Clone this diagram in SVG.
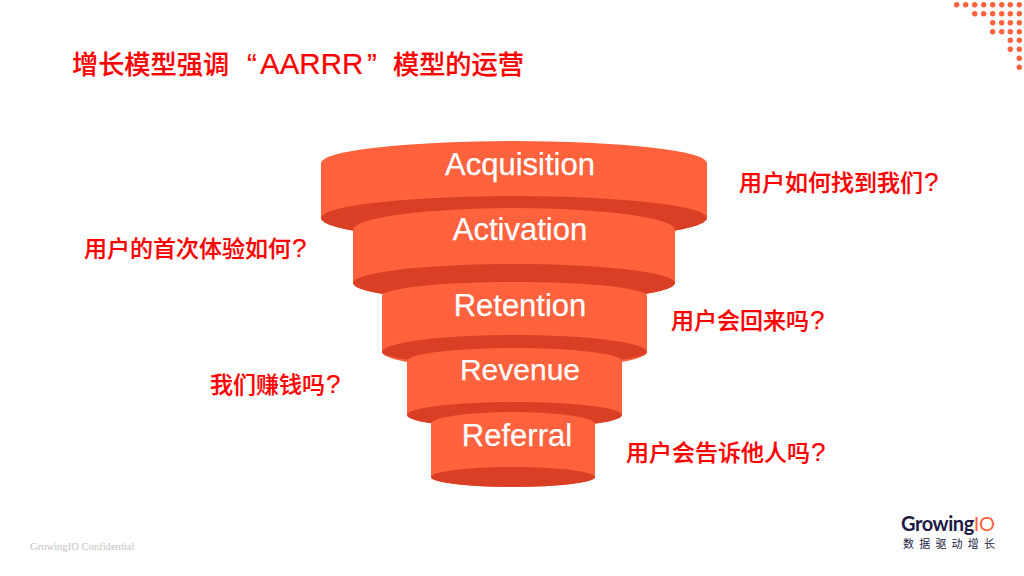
<svg xmlns="http://www.w3.org/2000/svg" width="1024" height="576" viewBox="0 0 1024 576">
<style>
.side{fill:#ff623c}
.in{fill:#d93f24}
.t{font-family:"Liberation Sans",Arial,sans-serif;font-size:31px;fill:#fff;stroke:#fff;stroke-width:.25px;text-anchor:middle}
.q{font-family:"Noto Sans CJK SC","Noto Sans",sans-serif;font-size:23px;fill:#f00;stroke:#f00;stroke-width:.2px;font-weight:500}
.m{font-family:"Liberation Sans",sans-serif;font-size:26px}
.d{fill:#ff623c}
.l{font-family:"Liberation Sans",sans-serif;font-size:29.500px;font-weight:400}
</style>
<rect width="1024" height="576" fill="#fff"/>
<text id="title" class="q" x="72" y="74" style="font-size:26.200px">增长模型强调<tspan class="l" x="247" y="74">“</tspan><tspan class="l" x="260" y="74">AARRR</tspan><tspan class="l" x="367" y="74">”</tspan><tspan x="393" y="74">模型的运营</tspan></text>
<g id="dots" class="d">
<circle cx="956.7" cy="4.7" r="2.7"/><circle cx="965.7" cy="4.7" r="2.7"/><circle cx="974.7" cy="4.7" r="2.7"/><circle cx="983.7" cy="4.7" r="2.7"/><circle cx="992.7" cy="4.7" r="2.7"/><circle cx="1001.7" cy="4.7" r="2.7"/><circle cx="1010.3" cy="4.7" r="2.7"/><circle cx="1019.3" cy="4.7" r="2.7"/>
<circle cx="974.7" cy="13.7" r="2.7"/><circle cx="983.7" cy="13.7" r="2.7"/><circle cx="992.7" cy="13.7" r="2.7"/><circle cx="1001.7" cy="13.7" r="2.7"/><circle cx="1010.3" cy="13.7" r="2.7"/><circle cx="1019.3" cy="13.7" r="2.7"/>
<circle cx="992.7" cy="22.7" r="2.7"/><circle cx="1001.7" cy="22.7" r="2.7"/><circle cx="1010.3" cy="22.7" r="2.7"/><circle cx="1019.3" cy="22.7" r="2.7"/>
<circle cx="992.7" cy="31.7" r="2.7"/><circle cx="1001.7" cy="31.7" r="2.7"/><circle cx="1010.3" cy="31.7" r="2.7"/><circle cx="1019.3" cy="31.7" r="2.7"/>
<circle cx="1010.3" cy="40.3" r="2.7"/><circle cx="1019.3" cy="40.3" r="2.7"/>
<circle cx="1010.3" cy="49.3" r="2.7"/><circle cx="1019.3" cy="49.3" r="2.7"/>
<circle cx="1019.3" cy="58.3" r="2.7"/><circle cx="1019.3" cy="67.3" r="2.7"/>
</g>
<g id="acquisition">
<path class="side" d="M321 163A193 22 0 0 1 707 163V218A193 23 0 0 1 321 218Z"/>
<path class="in" d="M321 218A193 22 0 0 1 707 218A193 23 0 0 1 321 218Z"/>
</g>
<g id="activation">
<path class="side" d="M353 230A161 22 0 0 1 675 230V283A161 19 0 0 1 353 283Z"/>
<path class="in" d="M353 283A161 19 0 0 1 675 283A161 19 0 0 1 353 283Z"/>
</g>
<g id="retention">
<path class="side" d="M382 296A132.500 14 0 0 1 647 296V352A132.500 17 0 0 1 382 352Z"/>
<path class="in" d="M382 352A132.500 17 0 0 1 647 352A132.500 13 0 0 1 382 352Z"/>
</g>
<g id="revenue">
<path class="side" d="M407 361A107.500 13 0 0 1 622 361V415A107.500 13 0 0 1 407 415Z"/>
<path class="in" d="M407 415A107.500 13 0 0 1 622 415A107.500 13 0 0 1 407 415Z"/>
</g>
<g id="referral">
<path class="side" d="M431 424A82 12 0 0 1 595 424V477A82 10 0 0 1 431 477Z"/>
<path class="in" d="M431 477A82 10 0 0 1 595 477A82 10 0 0 1 431 477Z"/>
</g>
<g id="funnel-labels">
<text class="t" x="520" y="175">Acquisition</text>
<text class="t" x="520" y="240">Activation</text>
<text class="t" x="520" y="316">Retention</text>
<text class="t" x="520" y="380" style="font-size:30px">Revenue</text>
<text class="t" x="517" y="446">Referral</text>
</g>
<g id="questions">
<text class="q" x="739" y="191">用户如何找到我们<tspan class="m" dx="1">?</tspan></text>
<text class="q" x="84" y="257">用户的首次体验如何<tspan class="m" dx="1">?</tspan></text>
<text class="q" x="671" y="329">用户会回来吗<tspan class="m" dx="1">?</tspan></text>
<text class="q" x="210" y="393">我们赚钱吗<tspan class="m" dx="1">?</tspan></text>
<text class="q" x="626" y="461">用户会告诉他人吗<tspan class="m" dx="1">?</tspan></text>
</g>
<text id="confidential" x="30" y="550" font-family="'Liberation Serif',serif" font-size="10.600" fill="#c4c4c4">GrowingIO Confidential</text>
<g id="logo">
<text x="901" y="531" font-family="Lato,'Noto Sans',sans-serif" font-size="20" font-weight="700" fill="#1e1a45" textLength="94">Growing<tspan fill="#ff623c" font-weight="400">IO</tspan></text>
<text x="903" y="548" font-family="'Noto Sans CJK SC',sans-serif" font-size="11" fill="#1e1a45" textLength="92">数据驱动增长</text>
</g>
</svg>
